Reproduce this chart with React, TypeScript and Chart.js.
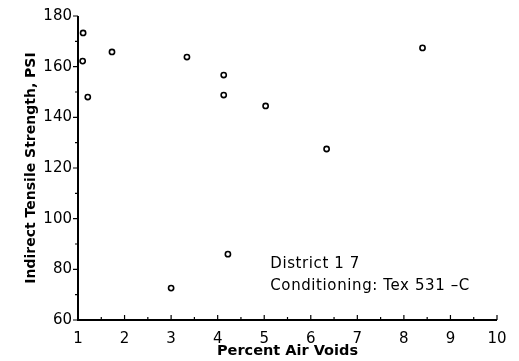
import React, { useEffect, useRef } from "react";
import { Chart, registerables } from "chart.js";

Chart.register(...registerables);

const airVoids = [1.11, 1.1, 1.21, 1.73, 3.34, 4.13, 4.13, 5.03, 6.34, 8.4, 3.0, 4.22];
const strength = [173.3, 162.2, 148.0, 165.8, 163.8, 156.7, 148.8, 144.5, 127.5, 167.4, 72.6, 86.0];
const noteLines = ["District 1 7", "Conditioning: Tex 531 \u2013C"];

const FONT = "'DejaVu Sans', sans-serif";

const axesPlugin = {
  id: "axesPlugin",
  afterDatasetsDraw(chart: any) {
    const { ctx, chartArea, scales } = chart;
    const x = scales.x;
    const y = scales.y;
    ctx.save();
    ctx.strokeStyle = "#000";
    ctx.lineWidth = 2;
    ctx.beginPath();
    ctx.moveTo(chartArea.left, chartArea.top);
    ctx.lineTo(chartArea.left, chartArea.bottom);
    ctx.lineTo(chartArea.right, chartArea.bottom);
    ctx.stroke();
    ctx.lineWidth = 1.2;
    ctx.beginPath();
    for (let v = 1; v <= 10.001; v += 0.5) {
      const px = x.getPixelForValue(v);
      const len = Math.abs(v - Math.round(v)) < 0.01 ? 5 : 3;
      ctx.moveTo(px, chartArea.bottom);
      ctx.lineTo(px, chartArea.bottom - len);
    }
    for (let v = 60; v <= 180.001; v += 10) {
      const py = y.getPixelForValue(v);
      const len = v % 20 === 0 ? 5 : 3;
      ctx.moveTo(chartArea.left, py);
      ctx.lineTo(chartArea.left - len, py);
    }
    ctx.stroke();
    ctx.fillStyle = "#000";
    ctx.font = `15px ${FONT}`;
    try {
      (ctx as any).letterSpacing = "0.6px";
    } catch (e) {}
    ctx.textBaseline = "middle";
    ctx.textAlign = "left";
    const tx = x.getPixelForValue(5.13);
    ctx.fillText(noteLines[0], tx, y.getPixelForValue(82));
    ctx.fillText(noteLines[1], tx, y.getPixelForValue(73.5));
    ctx.restore();
  },
};

export default function App() {
  const ref = useRef<HTMLCanvasElement>(null);
  useEffect(() => {
    if (!ref.current) return;
    const chart = new Chart(ref.current, {
      type: "scatter",
      data: {
        datasets: [
          {
            data: airVoids.map((v, i) => ({ x: v, y: strength[i] })),
            pointRadius: 2.6,
            pointBorderWidth: 1.6,
            pointBorderColor: "#000",
            pointBackgroundColor: "#fff",
          },
        ],
      },
      options: {
        animation: false,
        responsive: false,
        devicePixelRatio: 1,
        layout: { padding: { left: 21, top: 16, right: 22, bottom: 0 } },
        plugins: { legend: { display: false }, tooltip: { enabled: false } },
        scales: {
          x: {
            type: "linear",
            min: 1,
            max: 10,
            afterFit: (s: any) => {
              s.height = 41;
            },
            grid: { display: false, drawTicks: false },
            border: { display: false },
            ticks: { stepSize: 1, padding: 10, color: "#000", font: { family: FONT, size: 15 } },
            title: {
              display: true,
              text: "Percent Air Voids",
              color: "#000",
              padding: { top: 0, bottom: 1 },
              font: { family: FONT, size: 14.5, weight: "bold" },
            },
          },
          y: {
            type: "linear",
            min: 60,
            max: 180,
            afterFit: (s: any) => {
              s.width = 57;
            },
            grid: { display: false, drawTicks: false },
            border: { display: false },
            ticks: { stepSize: 20, padding: 6, color: "#000", font: { family: FONT, size: 15 } },
            title: {
              display: true,
              text: "Indirect Tensile Strength, PSI",
              color: "#000",
              padding: 2,
              font: { family: FONT, size: 14, weight: "bold" },
            },
          },
        },
      },
      plugins: [axesPlugin],
    });
    return () => chart.destroy();
  }, []);
  return (
    <div style={{ position: "absolute", left: 0, top: 0, width: 519, height: 361, background: "#fff" }}>
      <canvas ref={ref} width={519} height={361} />
    </div>
  );
}
